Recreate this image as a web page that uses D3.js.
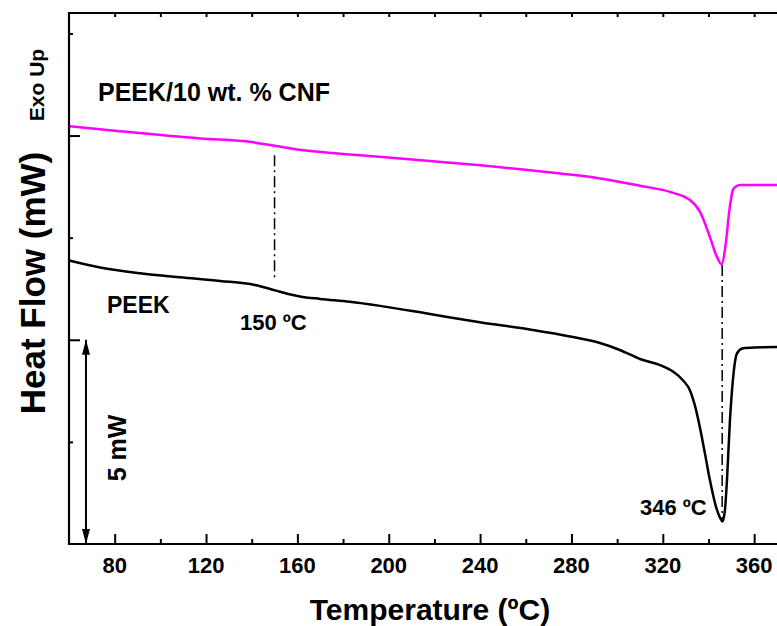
<!DOCTYPE html>
<html>
<head>
<meta charset="utf-8">
<script src="https://cdn.jsdelivr.net/npm/d3@7"></script>
<style>
  body { margin: 0; background: #fff; }
  text { font-family: "Liberation Sans", Arial, sans-serif; font-weight: bold; fill: #000; }
</style>
</head>
<body>
<script>
"use strict";

// PEEK (black)
const peekTemp = [60, 73.6, 91.1, 108.6, 126.1, 141.4, 150.2, 156, 161.1, 170, 183.0, 196.2, 218.1, 239.9, 261.8, 279.4, 292.5, 301.2, 310.0, 318.8, 324.5, 328.8, 331.9, 334.1, 336.3, 338.5, 340.6, 343.3, 345.0, 346.1, 347.2, 348.1, 349.4, 350.7, 352.5, 355.1, 360, 370];
const peekFlow = [6.94, 6.77, 6.63, 6.53, 6.44, 6.34, 6.21, 6.12, 6.06, 6.00, 5.93, 5.83, 5.63, 5.43, 5.25, 5.08, 4.92, 4.75, 4.53, 4.38, 4.22, 4.01, 3.76, 3.38, 2.84, 2.20, 1.57, 0.91, 0.65, 0.55, 0.83, 1.57, 3.03, 4.02, 4.67, 4.79, 4.81, 4.82];

// PEEK/10 wt.% CNF (magenta)
const cnfTemp = [60, 80, 117.4, 140, 150, 161, 180, 205, 240, 275.0, 292.5, 310.0, 323.1, 331.9, 336.3, 340.6, 343.7, 345.7, 347.6, 349.0, 350.7, 352.0, 353.8, 360, 370];
const cnfFlow = [10.23, 10.12, 9.93, 9.84, 9.75, 9.65, 9.55, 9.44, 9.27, 9.07, 8.95, 8.77, 8.62, 8.42, 8.13, 7.52, 7.03, 6.85, 7.37, 8.10, 8.67, 8.75, 8.79, 8.79, 8.79];

// dash-dot marker lines [temperature, fromFlow, toFlow]
const markers = [[150, 9.52, 6.46], [346, 6.83, 0.59]];

const xMajor = [80, 120, 160, 200, 240, 280, 320, 360];
const xMinor = [100, 140, 180, 220, 260, 300, 340];
const yMajor = [5, 10];
const yMinor = [2.5, 7.5, 12.5];

const W = 777, H = 626;
const mLeft = 69, mTop = 13, mRight = 777, mBottom = 544;

const svg = d3.select("body").append("svg")
  .attr("width", W)
  .attr("height", H);

const x = d3.scaleLinear().domain([60, 370]).range([mLeft, mRight]);
const y = d3.scaleLinear().domain([0, 13]).range([mBottom, mTop]);

const line = d3.line()
  .x(d => x(d[0]))
  .y(d => y(d[1]))
  .curve(d3.curveMonotoneX);

// marker lines
svg.append("g")
  .selectAll("line")
  .data(markers)
  .enter()
  .append("line")
  .attr("x1", d => x(d[0]))
  .attr("x2", d => x(d[0]))
  .attr("y1", d => y(d[1]))
  .attr("y2", d => y(d[2]))
  .attr("stroke", "#000")
  .attr("stroke-width", 1.5)
  .attr("stroke-dasharray", "11,4,2,4");

svg.append("path")
  .datum(d3.zip(peekTemp, peekFlow))
  .attr("d", line)
  .attr("fill", "none")
  .attr("stroke", "#000")
  .attr("stroke-width", 2.5);

svg.append("path")
  .datum(d3.zip(cnfTemp, cnfFlow))
  .attr("d", line)
  .attr("fill", "none")
  .attr("stroke", "#ff00ff")
  .attr("stroke-width", 2.5);

// axes (inward ticks)
const axisG = svg.append("g");

axisG.append("g")
  .attr("transform", `translate(0,${mBottom})`)
  .call(d3.axisTop(x).tickValues(xMinor).tickSize(5).tickFormat(""));
axisG.append("g")
  .attr("transform", `translate(0,${mBottom})`)
  .call(d3.axisTop(x).tickValues(xMajor).tickSize(10).tickFormat(""));
axisG.append("g")
  .attr("transform", `translate(0,${mTop})`)
  .call(d3.axisBottom(x).tickValues(xMajor.concat(xMinor)).tickSize(4).tickFormat(""));
axisG.append("g")
  .attr("transform", `translate(${mLeft},0)`)
  .call(d3.axisRight(y).tickValues(yMinor).tickSize(4).tickFormat(""));
axisG.append("g")
  .attr("transform", `translate(${mLeft},0)`)
  .call(d3.axisRight(y).tickValues(yMajor).tickSize(11).tickFormat(""));

axisG.selectAll(".domain").remove();
axisG.selectAll("line").attr("stroke", "#000").attr("stroke-width", 2);

// frame
svg.append("path")
  .attr("d", `M${mRight},${mTop}H${mLeft}V${mBottom}H${mRight}`)
  .attr("fill", "none")
  .attr("stroke", "#000")
  .attr("stroke-width", 2.2);

// x tick labels
svg.append("g")
  .selectAll("text")
  .data(xMajor)
  .enter()
  .append("text")
  .attr("x", d => x(d))
  .attr("y", 573)
  .attr("text-anchor", "middle")
  .style("font-size", "22px")
  .text(d => d);

// titles
svg.append("text")
  .attr("x", 430)
  .attr("y", 620)
  .attr("text-anchor", "middle")
  .style("font-size", "30px")
  .text("Temperature (ºC)");

svg.append("text")
  .attr("transform", "translate(45,283) rotate(-90)")
  .attr("text-anchor", "middle")
  .style("font-size", "35px")
  .text("Heat Flow (mW)");

svg.append("text")
  .attr("transform", "translate(44,85) rotate(-90)")
  .attr("text-anchor", "middle")
  .style("font-size", "21px")
  .text("Exo Up");

svg.append("text")
  .attr("transform", "translate(126,448) rotate(-90)")
  .attr("text-anchor", "middle")
  .style("font-size", "25px")
  .text("5 mW");

// labels
svg.append("text")
  .attr("x", 98).attr("y", 101)
  .style("font-size", "25px")
  .text("PEEK/10 wt. % CNF");

svg.append("text")
  .attr("x", 107).attr("y", 313)
  .style("font-size", "23px")
  .text("PEEK");

svg.append("text")
  .attr("x", 240).attr("y", 330)
  .style("font-size", "22px")
  .text("150 ºC");

svg.append("text")
  .attr("x", 640).attr("y", 515)
  .style("font-size", "22px")
  .text("346 ºC");

// 5 mW scale arrow
const defs = svg.append("defs");
defs.append("marker")
  .attr("id", "head")
  .attr("viewBox", "0 0 15 8")
  .attr("refX", 15).attr("refY", 4)
  .attr("markerWidth", 7.5).attr("markerHeight", 4)
  .attr("markerUnits", "strokeWidth")
  .attr("orient", "auto-start-reverse")
  .append("path")
  .attr("d", "M0,0L15,4L0,8Z")
  .attr("fill", "#000");

svg.append("line")
  .attr("x1", 86).attr("x2", 86)
  .attr("y1", y(5)).attr("y2", y(0))
  .attr("stroke", "#000")
  .attr("stroke-width", 2)
  .attr("marker-start", "url(#head)")
  .attr("marker-end", "url(#head)");
</script>
</body>
</html>
